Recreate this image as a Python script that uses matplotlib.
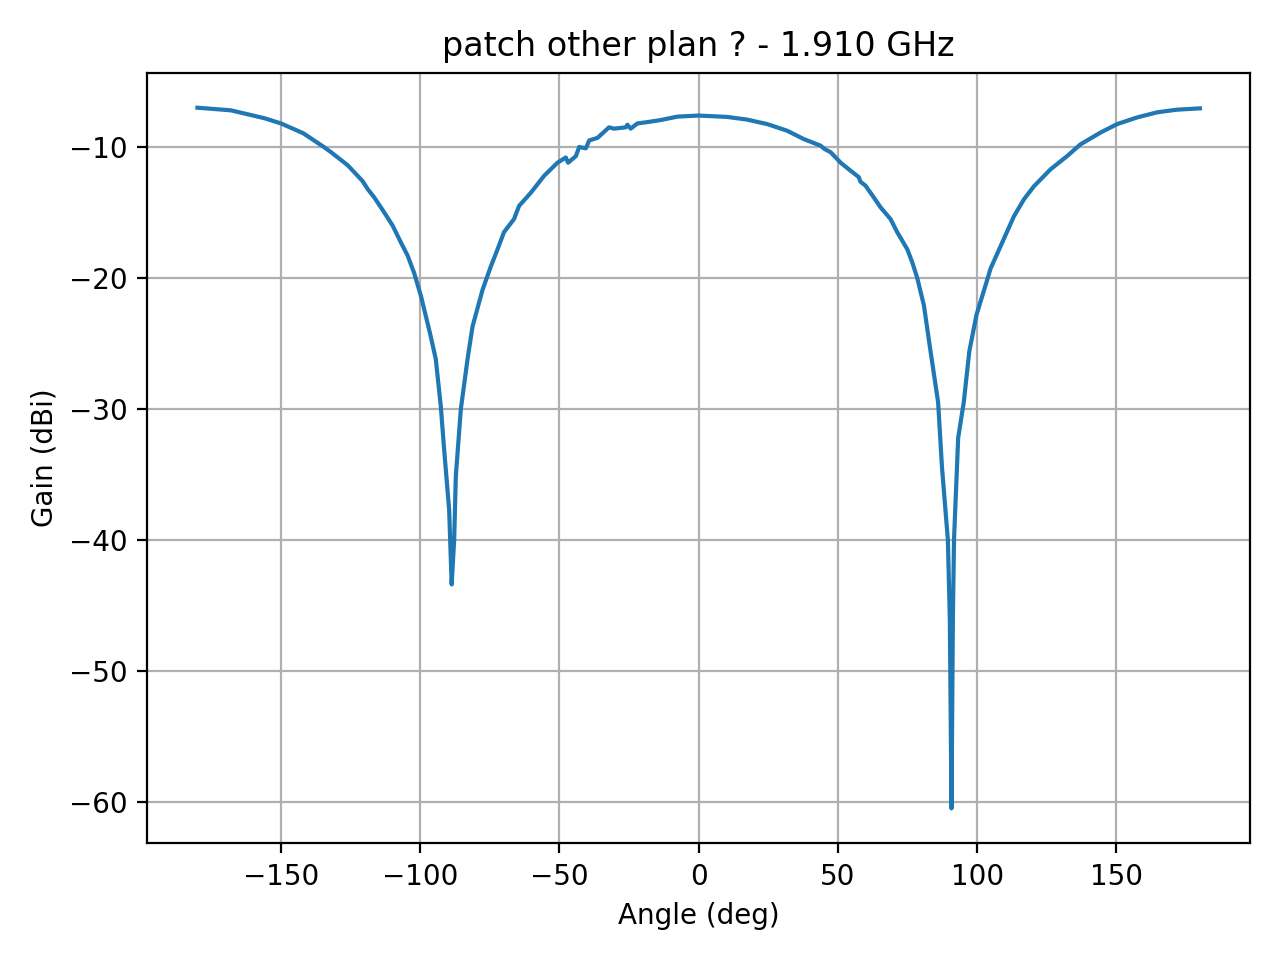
import matplotlib
matplotlib.use("Agg")
import matplotlib.pyplot as plt

angle = [-180, -168, -162, -156, -150, -142, -134.6, -132, -126, -120.7,
         -118.9, -116.5, -112.9, -109.9, -106.9, -104.5, -102.2, -99.7, -96.5, -94.4,
         -92.6, -91.4, -89.6, -88.7, -87.8, -87.2, -85.4, -83, -81.2, -77.6,
         -74.6, -72.2, -69.9, -66.3, -64.5, -60.3, -55.5, -50.7, -47.7, -46.9,
         -44.1, -42.9, -40.5, -39.3, -36.3, -32.2, -30.4, -26.2, -25.6, -24.4,
         -22, -18.4, -13.6, -7.6, 0, 10, 17.2, 24.6, 31.8, 37.8,
         43.8, 45.2, 47.4, 51, 54.5, 57.5, 58.1, 59.9, 62.9, 65.3,
         68.9, 71.3, 74.9, 76.7, 78.5, 80.9, 83, 86, 87.4, 89.5,
         90.2, 90.8, 91.3, 91.7, 93.2, 95.2, 97.2, 99.8, 103.4, 104.8,
         109, 113.2, 116.8, 120.4, 126.4, 132.3, 137.1, 144.3, 150.3, 157.5,
         164.7, 171.8, 180]
gain = [-7.0, -7.2, -7.5, -7.8, -8.2, -8.95, -10.0, -10.4, -11.4, -12.6,
        -13.2, -13.85, -15.0, -16.0, -17.3, -18.3, -19.6, -21.4, -24.2, -26.2,
        -29.8, -33.1, -37.7, -43.4, -40.0, -35.1, -30.0, -26.2, -23.7, -20.9,
        -19.1, -17.8, -16.5, -15.5, -14.5, -13.5, -12.2, -11.2, -10.8, -11.2,
        -10.7, -10.0, -10.1, -9.5, -9.3, -8.5, -8.6, -8.5, -8.3, -8.6,
        -8.2, -8.1, -7.94, -7.68, -7.6, -7.7, -7.9, -8.25, -8.76, -9.4,
        -9.9, -10.15, -10.4, -11.2, -11.8, -12.3, -12.65, -12.95, -13.85, -14.6,
        -15.5, -16.5, -17.8, -18.8, -20.0, -22.1, -25.2, -29.5, -34.5, -40.0,
        -46.0, -60.5, -46.0, -40.0, -32.2, -29.5, -25.6, -22.8, -20.3, -19.3,
        -17.3, -15.3, -14.0, -13.0, -11.7, -10.7, -9.8, -8.9, -8.25, -7.74,
        -7.35, -7.15, -7.05]

freq_ghz = 1.910

fig = plt.figure(figsize=(6.4, 4.8), dpi=200)
plt.plot(angle, gain)
plt.grid(True)
plt.xlabel('Angle (deg)')
plt.ylabel('Gain (dBi)')
plt.title(f'patch other plan ? - {freq_ghz:.3f} GHz')
plt.tight_layout()
plt.savefig('out.png')
